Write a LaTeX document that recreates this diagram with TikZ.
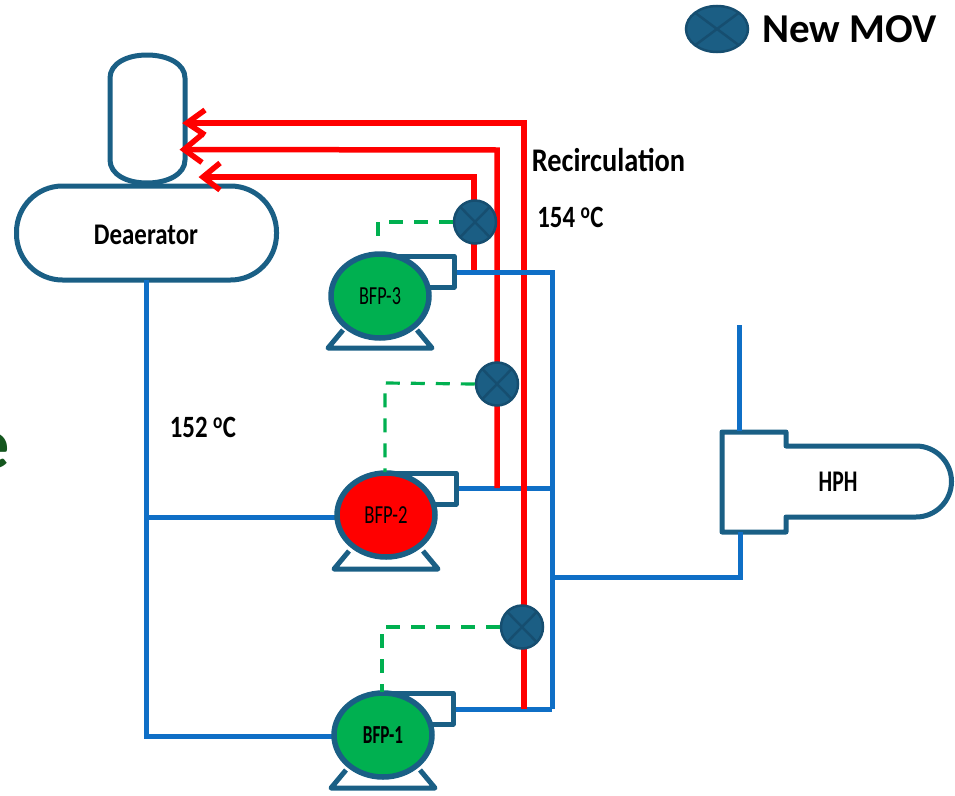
\documentclass[tikz,border=0pt]{standalone}
\usepackage{fontspec}
\setmainfont{Carlito}
\usetikzlibrary{shapes.geometric,calc}
\definecolor{teal1}{HTML}{1A5F85}
\definecolor{valvefill}{HTML}{1B5E84}
\definecolor{valveline}{HTML}{164E70}
\definecolor{pipeblue}{HTML}{0F6FC6}
\definecolor{sigred}{HTML}{FF0000}
\definecolor{siggreen}{HTML}{00B050}
\definecolor{darkgreen}{HTML}{14561E}
\newcommand{\squeeze}[2]{\scalebox{#1}[1]{#2}}
\tikzset{
  equip/.style={draw=teal1,line width=5pt,line join=round,fill=white},
  bluepipe/.style={draw=pipeblue,line width=5pt,line join=miter},
  redpipe/.style={draw=sigred,line width=5.5pt,line join=miter},
  redtip/.style={draw=sigred,line width=5.5pt,line join=miter,miter limit=10},
  ctrl/.style={draw=siggreen,line width=3.2pt,dash pattern=on 14pt off 11pt},
  pumpbody/.style={ellipse,draw=teal1,line width=5.5pt,minimum width=98pt,minimum height=84pt,inner sep=0pt},
  valve/.style={ellipse,draw=valveline,line width=2.5pt,fill=valvefill,minimum width=42pt,minimum height=43pt,inner sep=0pt,
    path picture={\draw[valveline,line width=2.5pt] (path picture bounding box.south west)--(path picture bounding box.north east)
      (path picture bounding box.north west)--(path picture bounding box.south east);}},
  lbl/.style={font=\bfseries\fontsize{30}{30}\selectfont,text=black,inner sep=0pt},
  pumplbl/.style={font=\fontsize{26}{26}\selectfont,text=black,inner sep=0pt},
}
\begin{document}
\begin{tikzpicture}[x=1pt,y=-1pt]
\useasboundingbox (0,0) rectangle (955,795);
\begin{scope}
\clip (0,0) rectangle (955,795);
\node[anchor=east,inner sep=0pt,text=darkgreen,font=\bfseries\fontsize{72}{72}\selectfont] (stray) at (10,451) {e};
\end{scope}

\coordinate (redAbot) at (524,709); \coordinate (redAtop) at (524,123); \coordinate (tipA) at (187,123);
\coordinate (redBbot) at (497,488); \coordinate (redBtop) at (497,150); \coordinate (tipB) at (184,149.5);
\coordinate (redCbot) at (474,272); \coordinate (redCtop) at (474,177); \coordinate (tipC) at (203,177);
\coordinate (hdrT) at (552,272); \coordinate (hdrM) at (552,488); \coordinate (hdrB) at (552,709); \coordinate (hdrH) at (552,577);
\coordinate (hphIn) at (740,577); \coordinate (hphBot) at (740,532); \coordinate (hphTop) at (739,431); \coordinate (hphOut) at (739,325);
\coordinate (dAirBot) at (146,280); \coordinate (suctM) at (146,517); \coordinate (suctB) at (146,736);

% vessels
\draw[equip] (147,55) .. controls (168,55) and (185,64) .. (185,78) -- (185,160)
  .. controls (185,174) and (168,183) .. (147,183) .. controls (126,183) and (110,174) .. (110,160)
  -- (110,78) .. controls (110,64) and (126,55) .. (147,55) -- cycle;
\node[equip,draw,rectangle,rounded corners=46pt,minimum width=260pt,minimum height=94pt,inner sep=0pt] (dea) at (146.5,233) {};
\node[lbl] at (146,235) {\squeeze{.83}{Deaerator}};

% HPH
\draw[equip] (722,432) -- (786,432) -- (786,446) -- (916,446) arc[start angle=-90,end angle=90,x radius=35.5pt,y radius=-35.5pt] -- (786,517) -- (786,532) -- (722,532) -- cycle;
\node[lbl] at (838,482) {\squeeze{.72}{HPH}};

% blue pipes below the red
\draw[bluepipe] (dAirBot) -- (suctB) -- (335,736);
\draw[bluepipe] (suctM) -- (339,517);
\draw[bluepipe] (458,488) -- (hdrM);
\draw[bluepipe] (455,709) -- (hdrB);
\draw[bluepipe] (hdrH) -- (hphIn) -- (hphBot);
\draw[bluepipe] (hphTop) -- (hphOut);

% red recirculation
\draw[redpipe] (redAbot) -- (redAtop) -- (tipA);
\draw[redpipe] (redBbot) -- (redBtop) -- (tipB);
\draw[redpipe] (redCbot) -- (redCtop) -- (tipC);
\draw[redtip] ($(tipA)+(18,-13)$) -- (tipA) -- ($(tipA)+(18,12)$);
\draw[redtip] ($(tipB)+(18,-15)$) -- (tipB) -- ($(tipB)+(18,13)$);
\draw[redtip] ($(tipC)+(17,-14)$) -- (tipC) -- ($(tipC)+(17,13)$);

% blue pipes over the red
\draw[bluepipe] (456,272) -- (hdrT) -- (hdrB);

% pumps
\foreach \nm/\cx/\cy/\fc/\txt/\xs/\rx/\by/\bt in {p3/380/296/siggreen/BFP-3/.70/454/348/256,p2/386/515/sigred/BFP-2/.72/456/569/473,p1/383/735/siggreen/\textbf{BFP-1}/.66/453/788/693}{
  \draw[equip] (\cx+0,\bt) -- (\rx,\bt) -- (\rx,\bt+31) -- (\cx+40,\bt+31);
  \draw[teal1,line width=5pt,line join=round,fill=white] (\cx-37,\by-18) -- (\cx-52,\by) -- (\cx+52,\by) -- (\cx+37,\by-18);
  \node[pumpbody,fill=\fc] (\nm) at (\cx,\cy) {};
  \node[pumplbl] at (\nm) {\squeeze{\xs}{\txt}};
}

% valves
\node[valve] (v3) at (475,222) {};
\node[valve] (v2) at (497,384) {};
\node[valve] (v1) at (522,627) {};
\node[valve,minimum width=62pt,minimum height=46pt] (vl) at (717,29) {};

% control lines
\coordinate (c3) at (378,222); \coordinate (e3) at (378,242);
\coordinate (c2) at (385,383); \coordinate (c1) at (382,627);
\draw[ctrl] (v3.west) -- (c3) -- (e3);
\draw[ctrl] (v2.west) -- (c2) -- (385,472);
\draw[ctrl] (v1.west) -- (c1) -- (382,692);

% labels
\node[inner sep=0pt,anchor=west,font=\bfseries\fontsize{41}{41}\selectfont] (legend) at (762,29) {New MOV};
\node[lbl,font=\bfseries\fontsize{33}{33}\selectfont] (recirc) at (608.5,160) {\squeeze{.86}{Recirculation}};
\node[lbl,font=\bfseries\fontsize{31}{31}\selectfont] (t154) at (570.5,217) {\squeeze{.80}{154 \textsuperscript{o}C}};
\node[lbl,font=\bfseries\fontsize{31}{31}\selectfont] (t152) at (203,427) {\squeeze{.80}{152 \textsuperscript{o}C}};
\end{tikzpicture}
\end{document}
